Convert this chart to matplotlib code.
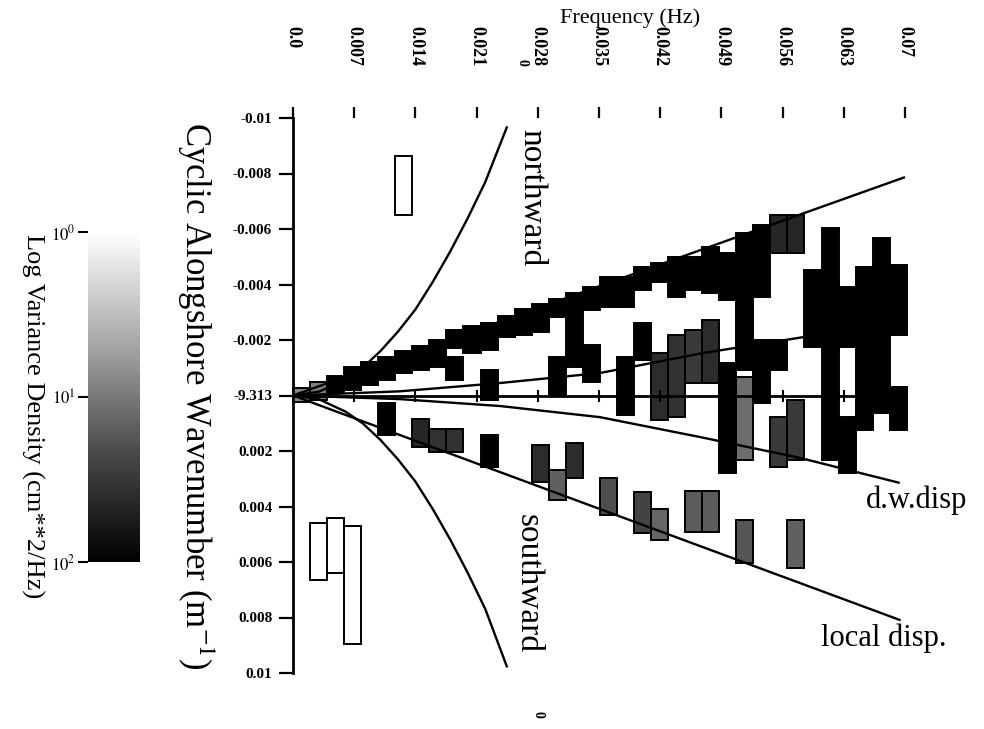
import numpy as np
import matplotlib
matplotlib.use('Agg')
import matplotlib.pyplot as plt
from matplotlib.colors import LogNorm, LinearSegmentedColormap
from matplotlib import transforms
from matplotlib.cm import ScalarMappable

plt.rcParams['font.family'] = ['Liberation Serif', 'DejaVu Serif']
plt.rcParams['mathtext.fontset'] = 'stix'

# ---------------- data ----------------
freq_ticks = [0.0, 0.007, 0.014, 0.021, 0.028, 0.035, 0.042, 0.049, 0.056, 0.063, 0.07]
freq_tick_labels = ['0.0', '0.007', '0.014', '0.021', '0.028', '0.035', '0.042',
                    '0.049', '0.056', '0.063', '0.07']
k_ticks = [-0.01, -0.008, -0.006, -0.004, -0.002, 0.0, 0.002, 0.004, 0.006, 0.008, 0.01]
k_tick_labels = ['-0.01', '-0.008', '-0.006', '-0.004', '-0.002', '-9.313',
                 '0.002', '0.004', '0.006', '0.008', '0.01']

df = 0.00195  # frequency resolution (Hz)

# spectral cells: frequency bin index, wavenumber range (1e-3 cycles/m), variance density
cell_bin = [0, 1, 2, 3, 4, 5, 6, 7, 8, 9, 9, 10, 11, 11, 12, 13, 14, 15, 15, 16, 17, 17,
            18, 19, 19, 20, 20, 21, 21, 22, 22, 23, 23, 24, 24, 25, 25, 26, 26, 27, 27,
            28, 28, 28, 29, 29, 30, 31, 32, 32, 33, 34, 35, 35,
            5, 7, 8, 9, 11, 14, 15, 16, 18, 20, 21, 23, 24, 26, 29,
            6, 1, 2, 3]
cell_k_lo = [-0.27, -0.49, -0.72, -1.04, -1.22, -1.40, -1.60, -1.80, -2.00, -2.35, -1.39,
             -2.52, -2.60, -0.92, -2.88, -3.12, -3.30, -3.48, -1.39, -3.69, -3.91, -1.82,
             -4.27, -4.27, -1.39, -4.63, -2.61, -4.77, -1.53, -4.99, -2.18, -4.99, -2.36,
             -5.35, -2.72, -5.14, -1.17, -5.86, -0.67, -6.14, -2.00,
             -6.50, -2.00, 0.77, -6.50, 0.16, -4.52, -6.04, -3.91, 0.77, -4.63, -5.68,
             -4.70, -0.31,
             0.27, 0.85, 1.21, 1.21, 1.42, 1.78, 2.68, 1.71, 2.97, 3.48, 4.09, 3.44, 3.44,
             4.49, 4.49,
             -8.63, 4.59, 4.41, 4.70]
cell_k_hi = [0.23, 0.16, -0.09, -0.20, -0.38, -0.56, -0.81, -0.92, -1.03, -1.71, -0.56,
             -1.53, -1.64, 0.16, -2.11, -2.18, -2.29, -2.83, 0.00, -1.03, -3.08, -0.49,
             -3.19, -3.19, 0.70, -3.80, -1.28, -4.09, 0.88, -3.55, 0.77, -3.80, -0.45,
             -3.69, -0.45, -3.44, 2.79, -0.92, 2.32, -3.55, 0.27,
             -5.14, -0.92, 2.58, -5.14, 2.32, -1.75, 2.32, -1.75, 2.79, 1.24, 0.63,
             -2.18, 1.24,
             1.42, 1.86, 2.04, 2.04, 2.58, 3.12, 3.77, 2.97, 4.31, 4.95, 5.21, 4.92, 4.92,
             6.04, 6.22,
             -6.50, 6.65, 6.40, 8.95]
cell_density = [8, 9, 100, 100, 100, 100, 100, 100, 100, 100, 100,
                100, 100, 100, 100, 100, 100, 100, 100, 100, 100, 100,
                100, 100, 100, 100, 100, 100, 40, 100, 35, 100, 30,
                100, 40, 100, 100, 100, 12, 100, 100,
                45, 100, 30, 45, 30, 100, 100, 100, 100, 100, 100,
                100, 100,
                100, 45, 35, 35, 100, 40, 15, 40, 20, 25, 14, 16, 16,
                18, 15,
                1, 1, 1, 1]

# dispersion curves
north_f = [0, 0.003, 0.006, 0.008, 0.010, 0.012, 0.014, 0.016, 0.018, 0.020, 0.022, 0.0245]
north_k = [0, -0.00014, -0.00058, -0.00101, -0.0016, -0.0023, -0.0031, -0.0041, -0.0052,
           -0.0064, -0.0077, -0.0097]
south_f = [0, 0.003, 0.006, 0.008, 0.010, 0.012, 0.014, 0.016, 0.018, 0.020, 0.022, 0.0245]
south_k = [0, 0.00014, 0.00058, 0.00101, 0.0016, 0.0023, 0.0031, 0.0041, 0.0052,
           0.0064, 0.0077, 0.0098]
local_up_f = [0, 0.070]
local_up_k = [0, -0.00787]
local_dn_f = [0, 0.0695]
local_dn_k = [0, 0.0081]
dw_up_f = [0, 0.0122, 0.0237, 0.0351, 0.0469, 0.0585, 0.0700]
dw_up_k = [0, -0.00015, -0.00045, -0.00081, -0.00153, -0.00211, -0.00265]
dw_dn_f = [0, 0.0122, 0.0237, 0.0351, 0.0466, 0.0580, 0.0694]
dw_dn_k = [0, 0.00013, 0.00038, 0.00078, 0.0015, 0.00225, 0.00315]

# ---------------- figure ----------------
W, H = 984, 729
fig = plt.figure(figsize=(W / 100, H / 100), dpi=100)

def fx(px):
    return px / W

def fy(py):
    return 1 - py / H

ax = fig.add_axes([fx(293), fy(673), fx(905) - fx(293), fy(118) - fy(673)])
ax.set_xlim(0, 0.07)
ax.set_ylim(0.01, -0.01)

cmap = LinearSegmentedColormap.from_list('gw', ['#ffffff', '#a8a8a8', '#4a4a4a', '#000000'])
norm = LogNorm(1, 100)

bin_arr = np.array(cell_bin)
k_lo = np.array(cell_k_lo) * 1e-3
k_hi = np.array(cell_k_hi) * 1e-3
colors = cmap(norm(np.array(cell_density, dtype=float)))
ax.bar(bin_arr * df, k_hi - k_lo, bottom=k_lo, width=df, align='edge',
       color=colors, edgecolor='black', linewidth=1.4, clip_on=False, zorder=2)

lw = 1.7
for fxs, kys in [(north_f, north_k), (south_f, south_k), (local_up_f, local_up_k),
                 (local_dn_f, local_dn_k), (dw_up_f, dw_up_k), (dw_dn_f, dw_dn_k)]:
    ax.plot(fxs, kys, color='black', lw=lw, zorder=3, clip_on=False, solid_capstyle='butt')

# k = 0 line with ticks
ax.plot([0, 0.07], [0, 0], color='black', lw=2.0, zorder=3)
ax.plot(freq_ticks[1:], [0] * (len(freq_ticks) - 1), ls='none', marker='|',
        markersize=8, mew=1.5, color='black', zorder=3)

# axes styling
for s in ['right', 'bottom', 'top']:
    ax.spines[s].set_visible(False)
ax.spines['left'].set_linewidth(2)
ax.xaxis.set_ticks_position('top')
ax.set_xticks(freq_ticks)
ax.set_xticklabels([])
ax.tick_params(axis='x', direction='out', length=8, width=1.6)
ax.set_yticks(k_ticks)
ax.set_yticklabels(k_tick_labels, fontsize=11, fontweight='bold')
ax.tick_params(axis='y', direction='out', length=10, width=1.6, pad=5)

trans = transforms.blended_transform_factory(ax.transData, fig.transFigure)
for f, lab in zip(freq_ticks, freq_tick_labels):
    ax.text(f, fy(26), lab, transform=trans, rotation=-90, ha='center', va='top',
            fontsize=13, fontweight='bold', clip_on=False)

# annotations
fig.text(fx(630), fy(18), 'Frequency (Hz)', ha='center', va='center', fontsize=16)
fig.text(fx(196), fy(396), 'Cyclic Alongshore Wavenumber (m$^{-1}$)', rotation=-90,
         ha='center', va='center', fontsize=25)
fig.text(fx(531), fy(198), 'northward', rotation=-90, ha='center', va='center', fontsize=24)
fig.text(fx(528), fy(584), 'southward', rotation=-90, ha='center', va='center', fontsize=24)
fig.text(fx(866), fy(500), 'd.w.disp', ha='left', va='center', fontsize=22)
fig.text(fx(821), fy(638), 'local disp.', ha='left', va='center', fontsize=22)
fig.text(fx(538), fy(714), '0', rotation=-90, ha='center', va='center', fontsize=10,
         fontweight='bold')
fig.text(fx(522), fy(62), '0', rotation=-90, ha='center', va='center', fontsize=10,
         fontweight='bold')

# colorbar
cax = fig.add_axes([fx(88), fy(562), fx(140) - fx(88), fy(232) - fy(562)])
sm = ScalarMappable(norm=norm, cmap=cmap)
cb = fig.colorbar(sm, cax=cax)
cb.outline.set_visible(False)
cax.invert_yaxis()
cax.yaxis.set_ticks_position('left')
cax.yaxis.set_label_position('left')
cb.set_ticks([1, 10, 100])
cb.set_ticklabels(['$10^{0}$', '$10^{1}$', '$10^{2}$'])
cax.minorticks_off()
cax.tick_params(axis='y', which='both', direction='out', length=7, width=1.5,
                labelsize=12, pad=2)
fig.text(fx(33), fy(416), 'Log Variance Density (cm**2/Hz)', rotation=-90,
         ha='center', va='center', fontsize=19)

fig.savefig('out.png', dpi=100)
